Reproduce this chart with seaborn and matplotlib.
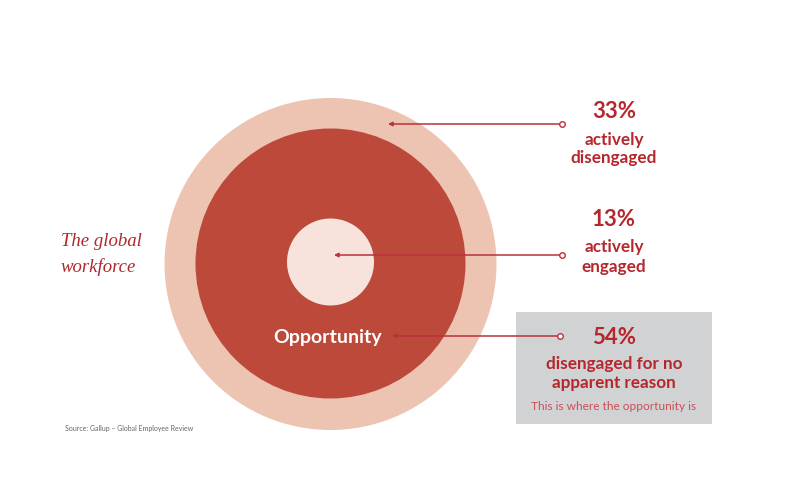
import matplotlib
matplotlib.use("Agg")
import matplotlib.pyplot as plt
import seaborn as sns
import pandas as pd
from matplotlib.patches import Circle, Rectangle

sns.set_theme(style="white")
plt.rcParams['font.family'] = ['Lato', 'DejaVu Sans']

# Data
segments = ["actively disengaged", "actively engaged", "disengaged for no apparent reason"]
shares = [33, 13, 54]
pct_labels = ["33%", "13%", "54%"]
desc_labels = [["actively", "disengaged"], ["actively", "engaged"], ["disengaged for no", "apparent reason"]]
title_lines = ["The global", "workforce"]
center_label = "Opportunity"
note = "This is where the opportunity is"
source = "Source: Gallup \u2013 Global Employee Review"

RED = "#B5272D"
fig = plt.figure(figsize=(7.9, 5.0), dpi=100)
ax = fig.add_axes([0, 0, 1, 1])

cx, cy = 330.5, 264
ax.add_patch(Circle((cx, cy), 166, color="#EDC3B2", lw=0))
ax.add_patch(Circle((cx, 263.5), 135, color="#BD493A", lw=0))
ax.add_patch(Circle((cx, 262), 43.5, color="#F7E3DB", lw=0))

# gray box
ax.add_patch(Rectangle((516, 312), 196, 112, color="#D1D2D4", lw=0))

# arrows
starts = [(562, 124), (562, 255), (560, 336)]
ends = [388, 334, 392]
for (sx, sy), ex in zip(starts, ends):
    ax.annotate("", xy=(ex, sy), xytext=(sx, sy),
                arrowprops=dict(arrowstyle="-|>", color="#B8323A", lw=1.1,
                                mutation_scale=6, shrinkA=0, shrinkB=0))
pts = pd.DataFrame({"x": [s[0] for s in starts], "y": [s[1] for s in starts], "seg": segments})
sns.scatterplot(data=pts, x="x", y="y", ax=ax, s=16, facecolor="white",
                edgecolor="#B8323A", linewidth=1.0, legend=False, zorder=5)
ax.set_xlim(0, 790)
ax.set_ylim(500, 0)
ax.axis("off")

RFONT = ["Lato", "DejaVu Sans"]
# right texts
pct_y = [112, 220, 338]
desc_y = [[140, 158], [247, 267], [364, 383]]
for p, py, dl, dys in zip(pct_labels, pct_y, desc_labels, desc_y):
    ax.text(614, py, p, ha="center", va="center", fontsize=16, fontweight="bold",
            color=RED, family=RFONT)
    for t, y in zip(dl, dys):
        ax.text(614, y, t, ha="center", va="center", fontsize=12.3, fontweight="bold",
                color=RED, family=RFONT)
ax.text(614, 406, note, ha="center", va="center", fontsize=8.6, color="#CC4F56", family=RFONT)

ax.text(cx - 3, 337, center_label, ha="center", va="center", fontsize=14,
        fontweight="bold", color="white", family=RFONT)

for t, y in zip(title_lines, [241, 267]):
    ax.text(61, y, t, ha="left", va="center", fontsize=13.5, style="italic",
            family=["Liberation Serif", "DejaVu Serif"], color="#B0262C")

ax.text(65, 429, source, ha="left", va="center", fontsize=5, color="#666666")

fig.savefig("out.png", dpi=100, facecolor="white")
